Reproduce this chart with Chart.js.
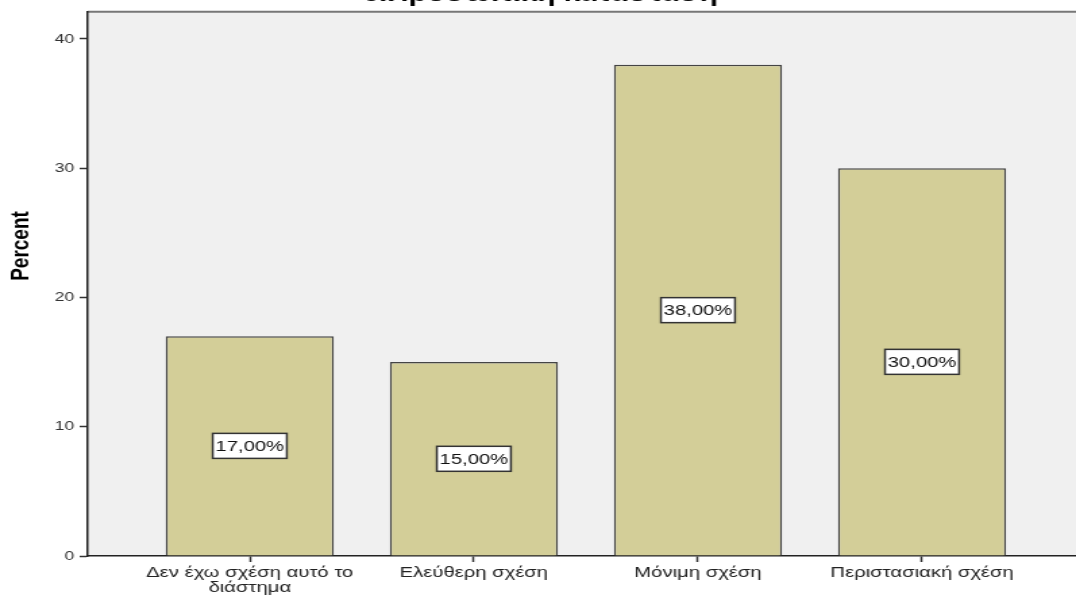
<!DOCTYPE html>
<html>
<head>
<meta charset="utf-8">
<script src="https://cdn.jsdelivr.net/npm/chart.js@4.4.0/dist/chart.umd.min.js"></script>
<style>
  body { margin: 0; background: #fff; }
</style>
</head>
<body>
<!-- キャンバスは横に引き伸ばして表示 -->
<canvas id="chart" width="797" height="601" style="display:block;width:1076px;height:601px"></canvas>
<script>
// カテゴリとパーセント値
const categories = [['Δεν έχω σχέση αυτό το', 'διάστημα'], 'Ελεύθερη σχέση', 'Μόνιμη σχέση', 'Περιστασιακή σχέση'];
const percents = [17, 15, 38, 30];
const yTicks = [0, 10, 20, 30, 40];
const chartTitle = '6.Προσωπική κατάσταση';
const yTitle = 'Percent';

const FONT = "'Liberation Sans', Arial, sans-serif";

// ラベル書式 (17 -> "17,00%")
function formatPercent(v) {
  return v.toFixed(2).replace('.', ',') + '%';
}

// 背景・上枠線・タイトル・軸タイトル・値ラベル
const decorPlugin = {
  id: 'decor',
  beforeDraw(chart) {
    const { ctx, chartArea: a } = chart;
    ctx.save();
    ctx.fillStyle = '#f0f0f0';
    ctx.fillRect(a.left, a.top, a.right - a.left, a.bottom - a.top);
    ctx.strokeStyle = '#777';
    ctx.lineWidth = 2;
    ctx.beginPath();
    ctx.moveTo(a.left, a.top);
    ctx.lineTo(a.right, a.top);
    ctx.stroke();

    // タイトル (上端で切れている)
    ctx.fillStyle = '#000';
    ctx.font = 'bold 22px ' + FONT;
    ctx.textAlign = 'center';
    ctx.textBaseline = 'alphabetic';
    ctx.fillText(chartTitle, 400, 0.5);

    // 縦軸タイトル
    ctx.translate(16, 246);
    ctx.rotate(-Math.PI / 2);
    ctx.font = 'bold 19px ' + FONT;
    ctx.textBaseline = 'middle';
    ctx.fillText(yTitle, 0, 0);
    ctx.restore();
  },
  afterDatasetsDraw(chart) {
    const { ctx } = chart;
    const meta = chart.getDatasetMeta(0);
    ctx.save();
    ctx.font = '15px ' + FONT;
    ctx.textAlign = 'center';
    ctx.textBaseline = 'middle';
    meta.data.forEach((bar, i) => {
      const text = formatPercent(percents[i]);
      const w = ctx.measureText(text).width + 4;
      const h = 25;
      const cy = (bar.y + bar.base) / 2;
      ctx.fillStyle = '#fff';
      ctx.fillRect(bar.x - w / 2, cy - h / 2, w, h);
      ctx.strokeStyle = '#333';
      ctx.lineWidth = 1.5;
      ctx.strokeRect(bar.x - w / 2, cy - h / 2, w, h);
      ctx.fillStyle = '#111';
      ctx.fillText(text, bar.x, cy + 1);
    });
    ctx.restore();
  }
};

const ctx = document.getElementById('chart').getContext('2d');
new Chart(ctx, {
  type: 'bar',
  data: {
    datasets: [{
      data: percents.map((v, i) => ({ x: i, y: v })),
      backgroundColor: '#d3ce98',
      borderColor: '#444',
      borderWidth: 1.5,
      borderSkipped: 'bottom',
      categoryPercentage: 1,
      barPercentage: 0.75,
    }]
  },
  options: {
    responsive: false,
    animation: false,
    devicePixelRatio: 1,
    layout: { padding: { top: 10, left: 0, right: 0, bottom: 0 } },
    plugins: {
      legend: { display: false },
      tooltip: { enabled: false },
      title: { display: false },
    },
    scales: {
      x: {
        type: 'linear',
        offset: false,
        min: -0.723,
        max: 3.687,
        afterBuildTicks(scale) {
          scale.ticks = categories.map((c, i) => ({ value: i }));
        },
        afterFit(scale) { scale.height = 45; },
        ticks: {
          includeBounds: false,
          autoSkip: false,
          maxRotation: 0,
          padding: 3,
          color: '#222',
          font: { family: FONT, size: 15, lineHeight: 1.0 },
          callback: (v) => categories[v],
        },
        grid: {
          offset: false,
          drawOnChartArea: false,
          drawTicks: true,
          tickLength: 6,
          tickColor: '#333',
          tickWidth: 1.5,
        },
        border: { color: '#222', width: 1.5 },
      },
      y: {
        min: 0,
        max: 42.1,
        afterBuildTicks(scale) {
          scale.ticks = yTicks.map(v => ({ value: v }));
        },
        afterFit(scale) { scale.width = 65; },
        ticks: {
          padding: 4,
          color: '#333',
          font: { family: FONT, size: 13 },
        },
        grid: {
          drawOnChartArea: false,
          drawTicks: true,
          tickLength: 6,
          tickColor: '#333',
          tickWidth: 1.5,
        },
        border: { color: '#222', width: 1.5 },
      }
    }
  },
  plugins: [decorPlugin]
});
</script>
</body>
</html>
